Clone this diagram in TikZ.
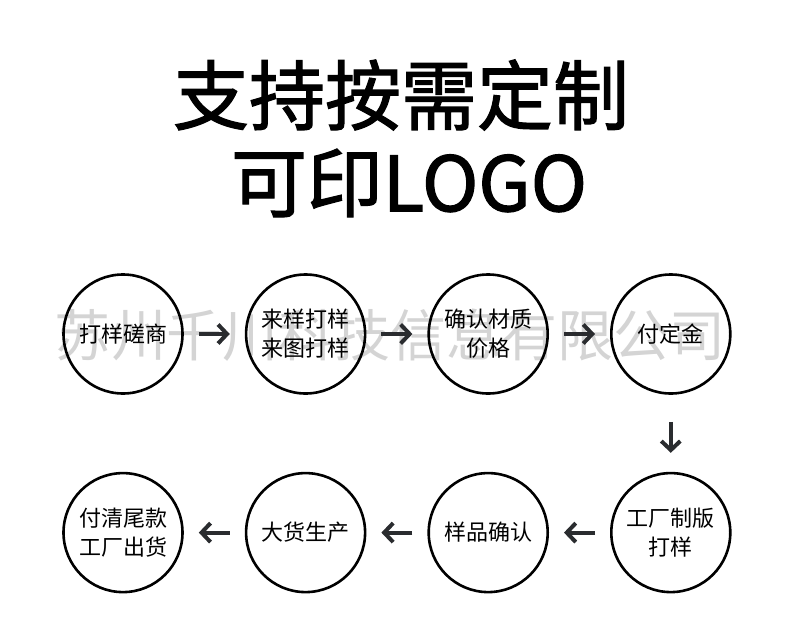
\documentclass[tikz,border=0pt]{standalone}
\usepackage{fontspec}
\setmainfont{Noto Sans CJK SC}
\newfontfamily\headfont{Noto Sans CJK SC}[FakeBold=1.6]
\usetikzlibrary{positioning,arrows.meta}
\definecolor{argray}{HTML}{2A2C2F}
\definecolor{markgray}{HTML}{D4D4D4}

\begin{document}
\begin{tikzpicture}[
        x=1pt, y=-1pt,
        node distance=77pt and 61pt,
        stepc/.style={
            draw, circle, line width=2.6pt, inner sep=0pt,
            minimum size=119pt, align=center,
            font=\fontsize{22}{29}\selectfont
        },
        head/.style={inner sep=0pt, font=\fontsize{76}{80}\selectfont\headfont},
        ar/.style={-{Straight Barb[length=9pt,width=19pt,line width=4pt]},
                   line width=4pt, argray, shorten <=15pt, shorten >=15pt}
    ]
    \useasboundingbox (0,0) rectangle (790,635);

    %% ---- title ----
    \node[head] (line1) at (401,95)  {支持按需定制};
    \node[head] (line2) at (409,183) {可印LOGO};

    %% ---- watermark ----
    \node[text=markgray, inner sep=0pt, font=\fontsize{56}{60}\selectfont]
        (mark) at (390,335) {苏州千川科技信息有限公司};

    %% ---- top row ----
    \node[stepc] (s1) at (123,334) {打样磋商};
    \node[stepc, right=of s1] (s2) {来样打样\\来图打样};
    \node[stepc, right=of s2] (s3) {确认材质\\价格};
    \node[stepc, right=of s3] (s4) {付定金};

    %% ---- bottom row ----
    \node[stepc, below=of s4] (s5) {工厂制版\\打样};
    \node[stepc, left=of s5]  (s6) {样品确认};
    \node[stepc, left=of s6]  (s7) {大货生产};
    \node[stepc, left=of s7]  (s8) {付清尾款\\工厂出货};

    \draw[ar] (s1) -- (s2);
    \draw[ar] (s2) -- (s3);
    \draw[ar] (s3) -- (s4);
    \draw[ar, shorten <=27pt, shorten >=19pt] (s4) -- (s5);
    \draw[ar] (s5) -- (s6);
    \draw[ar] (s6) -- (s7);
    \draw[ar] (s7) -- (s8);
\end{tikzpicture}
\end{document}
